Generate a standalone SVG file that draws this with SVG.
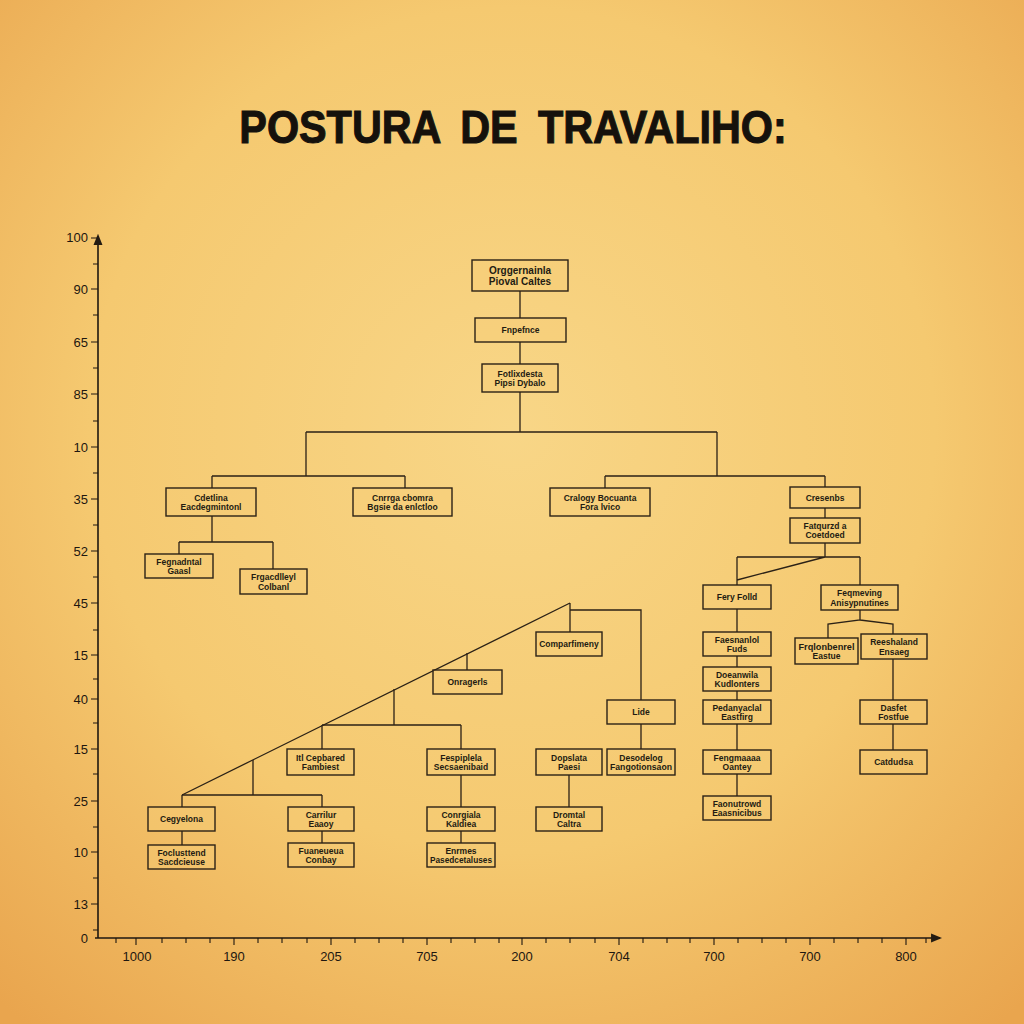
<svg xmlns="http://www.w3.org/2000/svg" width="1024" height="1024" viewBox="0 0 1024 1024">
<defs>
<radialGradient id="bg" cx="50%" cy="42%" r="75%">
<stop offset="0" stop-color="#F8D687"/>
<stop offset="0.55" stop-color="#F5C970"/>
<stop offset="1" stop-color="#E9A54E"/>
</radialGradient>
<marker id="arr" viewBox="0 0 10 10" refX="8" refY="5" markerWidth="7" markerHeight="7" orient="auto">
<path d="M0,1 L10,5 L0,9 z" fill="#231B12"/>
</marker>
<style>
.box{fill:#F6CD76;fill-opacity:0.45;stroke:#2B2116;stroke-width:1.4}
.t{font-family:"Liberation Sans",Arial,sans-serif;font-weight:bold;font-size:8.5px;fill:#231B12;text-anchor:middle}
.t1{font-family:"Liberation Sans",Arial,sans-serif;font-weight:bold;font-size:10px;fill:#231B12;text-anchor:middle}
.c{stroke:#2B2116;stroke-width:1.3;fill:none}
.ax{stroke:#1E1710;stroke-width:1.6;fill:none}
.tk{stroke:#1E1710;stroke-width:1.1}
.yl{font-family:"Liberation Sans",Arial,sans-serif;font-size:13px;fill:#1E1710;text-anchor:end}
.xl{font-family:"Liberation Sans",Arial,sans-serif;font-size:13px;fill:#1E1710;text-anchor:middle}
.title{font-family:"Liberation Sans",Arial,sans-serif;font-weight:bold;font-size:47px;fill:#15110C;stroke:#15110C;stroke-width:1.1;text-anchor:middle;word-spacing:10px}
</style>
</defs>
<rect x="0" y="0" width="1024" height="1024" fill="url(#bg)"/>

<text class="title" x="0" y="0" transform="translate(513,143) scale(0.88,1)">POSTURA DE TRAVALIHO:</text>

<g id="axes">
<path class="ax" d="M98,938 V236" marker-end="url(#arr)"/>
<path class="ax" d="M95,938 H940" marker-end="url(#arr)"/>
<g class="tk">
<path d="M91,238h7M93,264h5M91,289h7M93,315h5M91,342h7M93,368h5M91,394h7M93,421h5M91,447h7M93,473h5M91,499h7M93,525h5M91,551h7M93,577h5M91,603h7M93,630h5M91,655h7M93,679h5M91,699h7M93,723h5M91,749h7M93,774h5M91,801h7M93,827h5M91,852h7M93,878h5M91,904h7M93,930h5"/>
<path d="M116,938v5M136,938v7M162,938v5M186,938v5M210,938v5M234,938v7M258,938v5M282,938v5M307,938v5M331,938v7M355,938v5M379,938v5M403,938v5M427,938v7M451,938v5M475,938v5M499,938v5M522,938v7M546,938v5M570,938v5M595,938v5M619,938v7M643,938v5M667,938v5M690,938v5M714,938v7M738,938v5M762,938v5M786,938v5M810,938v7M834,938v5M858,938v5M882,938v5M906,938v7M926,938v5"/>
</g>
<text class="yl" x="88" y="242">100</text>
<text class="yl" x="88" y="294">90</text>
<text class="yl" x="88" y="347">65</text>
<text class="yl" x="88" y="399">85</text>
<text class="yl" x="88" y="452">10</text>
<text class="yl" x="88" y="504">35</text>
<text class="yl" x="88" y="556">52</text>
<text class="yl" x="88" y="608">45</text>
<text class="yl" x="88" y="660">15</text>
<text class="yl" x="88" y="704">40</text>
<text class="yl" x="88" y="754">15</text>
<text class="yl" x="88" y="806">25</text>
<text class="yl" x="88" y="857">10</text>
<text class="yl" x="88" y="909">13</text>
<text class="yl" x="88" y="943">0</text>
<text class="xl" x="137" y="961">1000</text>
<text class="xl" x="234" y="961">190</text>
<text class="xl" x="331" y="961">205</text>
<text class="xl" x="427" y="961">705</text>
<text class="xl" x="522" y="961">200</text>
<text class="xl" x="619" y="961">704</text>
<text class="xl" x="714" y="961">700</text>
<text class="xl" x="810" y="961">700</text>
<text class="xl" x="906" y="961">800</text>
</g>

<g id="connectors" class="c">
<path d="M520,291V318M520,342V364M520,392V432M306,432H717M306,432V476M212,476H405M212,476V488M405,476V488M717,432V476M605,476H825M605,476V488M825,476V487M825,508V518"/>
<path d="M212,516V542M179,542H273M179,542V554M273,542V569"/>
<path d="M825,543V557M737,557H860M737,557V585M737,580L825,557M860,557V585"/>
<path d="M737,609V632M737,656V667M737,691V700M737,724V750M737,774V796"/>
<path d="M860,610V620L828,624V638M860,620L893,624V634M893,659V700M893,724V750"/>
<path d="M570,603L182,795M570,603V632M570,610H641V700M641,724V749"/>
<path d="M467,653V670M394,689V725M322,725H461M322,725V749M461,725V749M461,775V807M461,831V843"/>
<path d="M253,760V795M182,795H322M182,795V807M322,795V807M182,831V845M322,831V843M569,775V807"/>
</g>

<g id="n1"><rect class="box" x="472" y="260" width="96" height="31"/><text class="t1" x="520" y="273.5">Orggernainla</text><text class="t1" x="520" y="285">Pioval Caltes</text></g>
<g id="n2"><rect class="box" x="475" y="318" width="91" height="24"/><text class="t" x="520.5" y="333">Fnpefnce</text></g>
<g id="n3"><rect class="box" x="482" y="364" width="76" height="28"/><text class="t" x="520" y="376.5">Fotlixdesta</text><text class="t" x="520" y="386">Pipsi Dybalo</text></g>
<g id="n4"><rect class="box" x="166" y="488" width="90" height="28"/><text class="t" x="211" y="500.5">Cdetlina</text><text class="t" x="211" y="510">Eacdegmintonl</text></g>
<g id="n5"><rect class="box" x="353" y="488" width="99" height="28"/><text class="t" x="402.5" y="500.5">Cnrrga cbomra</text><text class="t" x="402.5" y="510">Bgsie da enlctloo</text></g>
<g id="n6"><rect class="box" x="550" y="488" width="100" height="28"/><text class="t" x="600" y="500.5">Cralogy Bocuanta</text><text class="t" x="600" y="510">Fora lvico</text></g>
<g id="n7"><rect class="box" x="790" y="487" width="70" height="21"/><text class="t" x="825" y="500.5">Cresenbs</text></g>
<g id="n8"><rect class="box" x="790" y="518" width="70" height="25"/><text class="t" x="825" y="528.5">Fatqurzd a</text><text class="t" x="825" y="538">Coetdoed</text></g>
<g id="n9"><rect class="box" x="145" y="554" width="68" height="24"/><text class="t" x="179" y="564.5">Fegnadntal</text><text class="t" x="179" y="574">Gaasl</text></g>
<g id="n10"><rect class="box" x="240" y="569" width="67" height="25"/><text class="t" x="273.5" y="580">Frgacdlleyl</text><text class="t" x="273.5" y="589.5">Colbanl</text></g>
<g id="n11"><rect class="box" x="703" y="585" width="68" height="24"/><text class="t" x="737" y="600">Fery Folld</text></g>
<g id="n12"><rect class="box" x="821" y="585" width="77" height="25"/><text class="t" x="859.5" y="596">Feqmeving</text><text class="t" x="859.5" y="605.5">Anisypnutines</text></g>
<g id="n13"><rect class="box" x="703" y="632" width="68" height="24"/><text class="t" x="737" y="642.5">Faesnanlol</text><text class="t" x="737" y="652">Fuds</text></g>
<g id="n14"><rect class="box" x="703" y="667" width="68" height="24"/><text class="t" x="737" y="677.5">Doeanwila</text><text class="t" x="737" y="687">Kudlonters</text></g>
<g id="n15"><rect class="box" x="703" y="700" width="68" height="24"/><text class="t" x="737" y="710.5">Pedanyaclal</text><text class="t" x="737" y="720">Eastfirg</text></g>
<g id="n16"><rect class="box" x="703" y="750" width="68" height="24"/><text class="t" x="737" y="760.5">Fengmaaaa</text><text class="t" x="737" y="770">Oantey</text></g>
<g id="n17"><rect class="box" x="703" y="796" width="68" height="24"/><text class="t" x="737" y="806.5">Faonutrowd</text><text class="t" x="737" y="816">Eaasnicibus</text></g>
<g id="n18"><rect class="box" x="795" y="638" width="63" height="26"/><text class="t" x="826.5" y="649.5" textLength="56" lengthAdjust="spacingAndGlyphs">Frqlonbenrel</text><text class="t" x="826.5" y="659">Eastue</text></g>
<g id="n19"><rect class="box" x="861" y="634" width="66" height="25"/><text class="t" x="894" y="645">Reeshaland</text><text class="t" x="894" y="654.5">Ensaeg</text></g>
<g id="n20"><rect class="box" x="860" y="700" width="67" height="24"/><text class="t" x="893.5" y="710.5">Dasfet</text><text class="t" x="893.5" y="720">Fostfue</text></g>
<g id="n21"><rect class="box" x="860" y="750" width="67" height="24"/><text class="t" x="893.5" y="765">Catdudsa</text></g>
<g id="n22"><rect class="box" x="536" y="632" width="66" height="24"/><text class="t" x="569" y="647">Comparfimeny</text></g>
<g id="n23"><rect class="box" x="433" y="670" width="69" height="24"/><text class="t" x="467.5" y="685">Onragerls</text></g>
<g id="n24"><rect class="box" x="607" y="700" width="68" height="24"/><text class="t" x="641" y="715">Lide</text></g>
<g id="n25"><rect class="box" x="287" y="749" width="67" height="26"/><text class="t" x="320.5" y="760.5">Itl Cepbared</text><text class="t" x="320.5" y="770">Fambiest</text></g>
<g id="n26"><rect class="box" x="427" y="749" width="68" height="26"/><text class="t" x="461" y="760.5">Fespiplela</text><text class="t" x="461" y="770">Secsaenibaid</text></g>
<g id="n27"><rect class="box" x="536" y="749" width="66" height="26"/><text class="t" x="569" y="760.5">Dopslata</text><text class="t" x="569" y="770">Paesi</text></g>
<g id="n28"><rect class="box" x="607" y="749" width="68" height="26"/><text class="t" x="641" y="760.5">Desodelog</text><text class="t" x="641" y="770" textLength="62" lengthAdjust="spacingAndGlyphs">Fangotionsaon</text></g>
<g id="n29"><rect class="box" x="148" y="807" width="67" height="24"/><text class="t" x="181.5" y="822">Cegyelona</text></g>
<g id="n30"><rect class="box" x="148" y="845" width="67" height="24"/><text class="t" x="181.5" y="855.5">Foclusttend</text><text class="t" x="181.5" y="865">Sacdcieuse</text></g>
<g id="n31"><rect class="box" x="288" y="807" width="66" height="24"/><text class="t" x="321" y="817.5">Carrilur</text><text class="t" x="321" y="827">Eaaoy</text></g>
<g id="n32"><rect class="box" x="288" y="843" width="66" height="24"/><text class="t" x="321" y="853.5">Fuaneueua</text><text class="t" x="321" y="863">Conbay</text></g>
<g id="n33"><rect class="box" x="427" y="807" width="68" height="24"/><text class="t" x="461" y="817.5">Conrgiala</text><text class="t" x="461" y="827">Kaldiea</text></g>
<g id="n34"><rect class="box" x="427" y="843" width="68" height="24"/><text class="t" x="461" y="853.5">Enrmes</text><text class="t" x="461" y="863" textLength="62" lengthAdjust="spacingAndGlyphs">Pasedcetaluses</text></g>
<g id="n35"><rect class="box" x="536" y="807" width="66" height="24"/><text class="t" x="569" y="817.5">Dromtal</text><text class="t" x="569" y="827">Caltra</text></g>
</svg>
